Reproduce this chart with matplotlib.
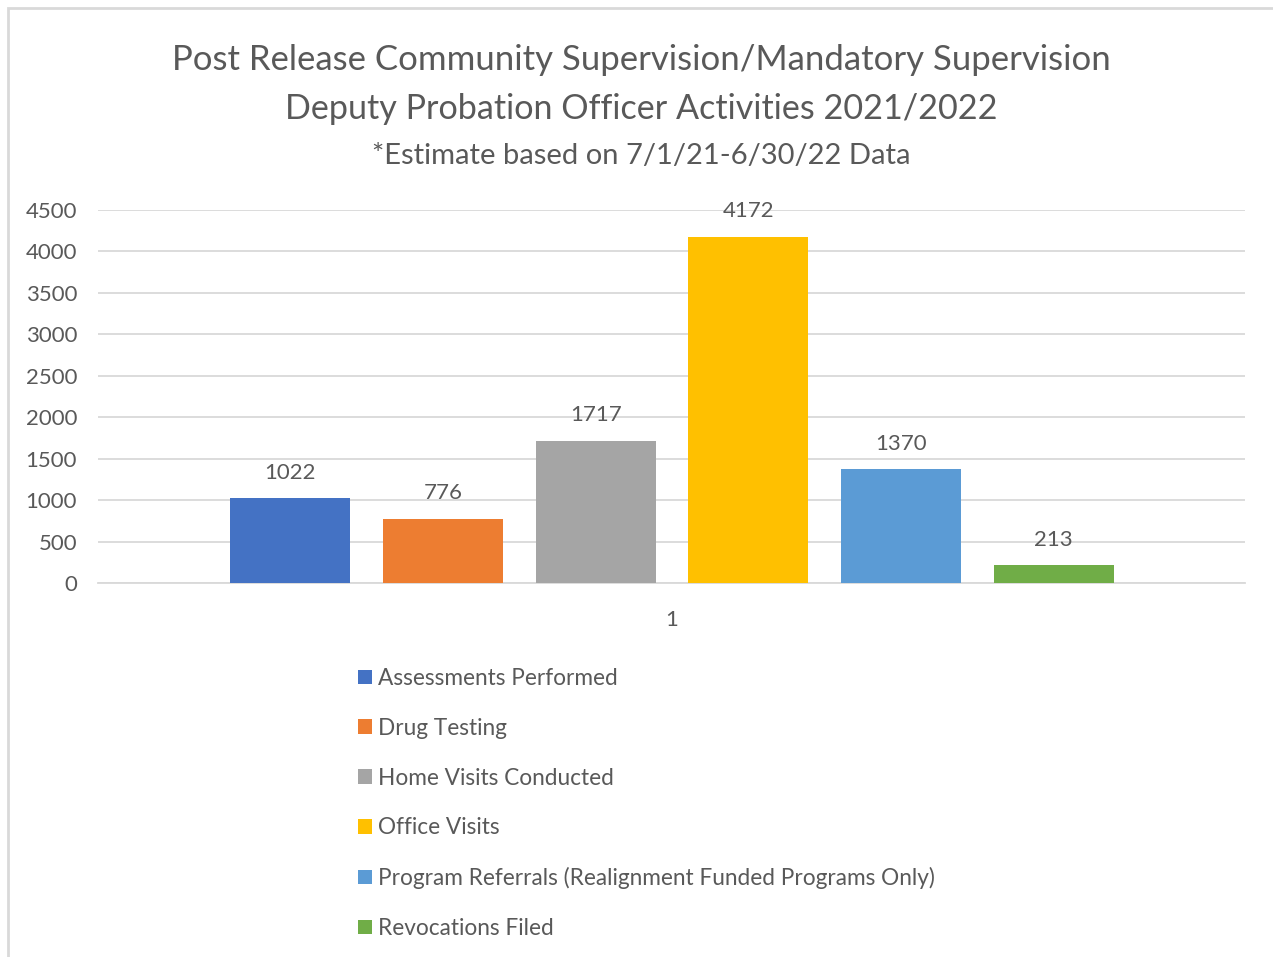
import numpy as np
import matplotlib.pyplot as plt
from matplotlib.patches import Rectangle, Patch

plt.rcParams['font.family'] = ['Lato', 'DejaVu Sans']

categories = ["Assessments Performed", "Drug Testing", "Home Visits Conducted",
              "Office Visits", "Program Referrals (Realignment Funded Programs Only)",
              "Revocations Filed"]
values = [1022, 776, 1717, 4172, 1370, 213]
colors = ["#4472C4", "#ED7D31", "#A5A5A5", "#FFC000", "#5B9BD5", "#70AD47"]
txt = "#595959"

fig = plt.figure(figsize=(12.73, 9.57), dpi=100)
fig.patches.append(Rectangle((8/1273, -0.1), 1.2, 0.1 + 949/957, transform=fig.transFigure,
                             fill=False, edgecolor="#D9D9D9", linewidth=2))

ax = fig.add_axes([98/1273, (957-583)/957, (1245-98)/1273, (583-210)/957])
x = np.arange(len(values)) - 2.5
ax.bar(x, values, width=0.786, color=colors, zorder=3)
for xi, v in zip(x, values):
    ax.annotate(str(v), (xi, v), xytext=(0, 18.5), textcoords='offset points',
                ha='center', va='center', fontsize=16, color=txt)

ax.set_ylim(0, 4500)
ax.set_yticks(range(0, 4501, 500))
ax.set_xlim(-3.759, 3.752)
ax.set_xticks([0])
ax.set_xticklabels(["1"])
ax.grid(axis='y', color="#D9D9D9", linewidth=1.3, zorder=0)
for s in ['top', 'right', 'left']:
    ax.spines[s].set_visible(False)
ax.spines['bottom'].set_color("#D9D9D9")
ax.spines['bottom'].set_linewidth(1.3)
ax.tick_params(axis='both', length=0, labelsize=16, labelcolor=txt)
ax.tick_params(axis='x', pad=19.5)
ax.tick_params(axis='y', pad=15)

fig.text(641/1273, 1 - 60/957, "Post Release Community Supervision/Mandatory Supervision",
         ha='center', va='center', fontsize=25, color=txt)
fig.text(641/1273, 1 - 109/957, "Deputy Probation Officer Activities 2021/2022",
         ha='center', va='center', fontsize=24.6, color=txt)
fig.text(641/1273, 1 - 156/957, "*Estimate based on 7/1/21-6/30/22 Data",
         ha='center', va='center', fontsize=21, color=txt)

handles = [Patch(facecolor=c, edgecolor='none') for c in colors]
fig.legend(handles, categories, loc='upper left', bbox_to_anchor=(358/1273, 1 - 668/957),
           frameon=False, fontsize=16.3, labelcolor=txt, handlelength=0.62, handleheight=0.62,
           handletextpad=0.27, labelspacing=1.27, borderpad=0, borderaxespad=0)

fig.savefig("out.png", dpi=100, facecolor='white')
